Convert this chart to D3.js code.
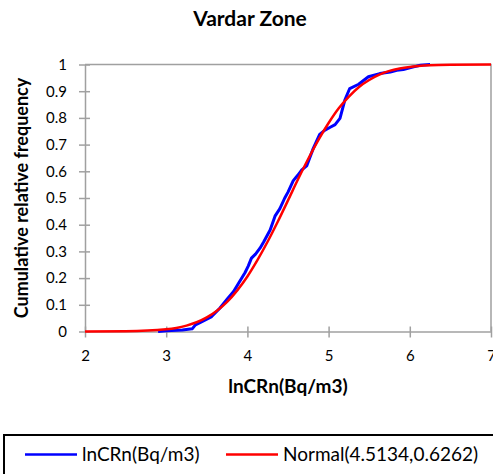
<!DOCTYPE html>
<html>
<head>
<meta charset="utf-8">
<script src="https://cdn.jsdelivr.net/npm/d3@7"></script>
<style>
  body { margin: 0; background: #fff; }
  svg { display: block; font-family: Lato, "Liberation Sans", sans-serif; }
</style>
</head>
<body>
<div class="chart"></div>
<script>
// tick labels
const xTicks = [2, 3, 4, 5, 6, 7];
const yTicks = [0, 0.1, 0.2, 0.3, 0.4, 0.5, 0.6, 0.7, 0.8, 0.9, 1];

const obsX = [2.90, 3.00, 3.20, 3.32, 3.36, 3.44, 3.56, 3.66, 3.76, 3.83, 3.91, 3.97, 4.01, 4.05,
  4.10, 4.155, 4.20, 4.28, 4.34, 4.40, 4.46, 4.50, 4.565, 4.62, 4.67, 4.73, 4.81, 4.89, 4.955,
  5.02, 5.08, 5.14, 5.20, 5.26, 5.37, 5.49, 5.63, 5.76, 5.84, 5.92, 6.00, 6.06, 6.13, 6.25];
const obsF = [0.000, 0.003, 0.006, 0.010, 0.025, 0.037, 0.056, 0.087, 0.125, 0.150, 0.190, 0.220,
  0.245, 0.275, 0.290, 0.312, 0.335, 0.380, 0.432, 0.460, 0.500, 0.522, 0.565, 0.585, 0.605, 0.620,
  0.685, 0.738, 0.754, 0.765, 0.775, 0.798, 0.867, 0.910, 0.926, 0.954, 0.966, 0.972, 0.978, 0.981,
  0.988, 0.992, 0.997, 1.000];

// fitted normal curve
const fitX = [2.0, 2.5, 3.0, 3.125, 3.25, 3.5, 3.625, 3.75, 3.875, 4.0, 4.125, 4.25, 4.375, 4.5,
  4.625, 4.75, 4.875, 5.0, 5.125, 5.25, 5.375, 5.5, 5.625, 5.75, 5.875, 6.0, 6.25, 6.5, 7.0];
const fitF = [0.000, 0.001, 0.008, 0.013, 0.022, 0.053, 0.078, 0.111, 0.154, 0.206, 0.268, 0.337,
  0.412, 0.491, 0.571, 0.647, 0.718, 0.781, 0.836, 0.880, 0.916, 0.942, 0.962, 0.976, 0.985, 0.991,
  0.997, 0.999, 1.000];

const seriesNames = ["lnCRn(Bq/m3)", "Normal(4.5134,0.6262)"];
const seriesColors = ["#0000ff", "#ff0000"];

const W = 493, H = 474;
const plot = { left: 85, right: 491, top: 64.5, bottom: 331.5 };
const axisColor = "#a0a0a0";

const svg = d3.select(".chart").append("svg").attr("width", W).attr("height", H);

const x = d3.scaleLinear().domain([2, 7]).range([plot.left, plot.right]);
const y = d3.scaleLinear().domain([0, 1]).range([plot.bottom, plot.top]);

// plot border (top and right)
svg.append("path")
  .attr("d", `M${plot.left},${plot.top}H${plot.right}V${plot.bottom}`)
  .attr("fill", "none")
  .attr("stroke", axisColor)
  .attr("stroke-width", 1.5);

// y axis
const yAxis = svg.append("g")
  .attr("transform", `translate(${plot.left},0)`)
  .call(d3.axisLeft(y).tickValues(yTicks).tickSizeInner(6).tickSizeOuter(0).tickPadding(12)
    .tickFormat(d => d === 0 || d === 1 ? d : d3.format(".1f")(d)));
yAxis.select(".domain").attr("stroke", axisColor).attr("stroke-width", 1.5);
yAxis.selectAll(".tick line").attr("stroke", axisColor).attr("stroke-width", 1.5).attr("x2", 5).attr("x1", -6);
yAxis.selectAll(".tick text").attr("font-size", 15).attr("font-family", "Lato, sans-serif").attr("fill", "#000");

// x axis
const xAxis = svg.append("g")
  .attr("transform", `translate(0,${plot.bottom})`)
  .call(d3.axisBottom(x).tickValues(xTicks).tickSizeInner(6).tickSizeOuter(0).tickPadding(13)
    .tickFormat(d3.format("d")));
xAxis.select(".domain").attr("stroke", axisColor).attr("stroke-width", 1.5);
xAxis.selectAll(".tick line").attr("stroke", axisColor).attr("stroke-width", 1.5).attr("y1", -5).attr("y2", 6);
xAxis.selectAll(".tick text").attr("font-size", 15).attr("font-family", "Lato, sans-serif").attr("fill", "#000");

// curves
const line = d3.line().x(d => x(d[0])).y(d => y(d[1]));
svg.append("path")
  .datum(obsX.map((v, i) => [v, obsF[i]]))
  .attr("fill", "none")
  .attr("stroke", seriesColors[0])
  .attr("stroke-width", 3)
  .attr("stroke-linejoin", "round")
  .attr("d", line);

svg.append("path")
  .datum(fitX.map((v, i) => [v, fitF[i]]))
  .attr("fill", "none")
  .attr("stroke", seriesColors[1])
  .attr("stroke-width", 2.5)
  .attr("d", line.curve(d3.curveMonotoneX));

// titles
svg.append("text")
  .attr("x", 250).attr("y", 26)
  .attr("text-anchor", "middle")
  .attr("font-size", 21).attr("font-weight", "bold")
  .text("Vardar Zone");

svg.append("text")
  .attr("x", (plot.left + plot.right) / 2).attr("y", 393)
  .attr("text-anchor", "middle")
  .attr("font-size", 19).attr("font-weight", "bold")
  .text("lnCRn(Bq/m3)");

svg.append("text")
  .attr("transform", `translate(28,${(plot.top + plot.bottom) / 2}) rotate(-90)`)
  .attr("text-anchor", "middle")
  .attr("font-size", 18).attr("font-weight", "bold")
  .text("Cumulative relative frequency");

// legend
const legend = svg.append("g");
legend.append("rect")
  .attr("x", 4).attr("y", 435)
  .attr("width", W).attr("height", 60)
  .attr("fill", "none")
  .attr("stroke", "#000")
  .attr("stroke-width", 2);

const legendX = [25, 226];
seriesNames.forEach((name, i) => {
  const g = legend.append("g").attr("transform", `translate(${legendX[i]},454.5)`);
  g.append("line").attr("x1", 0).attr("x2", 52)
    .attr("stroke", seriesColors[i]).attr("stroke-width", 2.5);
  g.append("text").attr("x", 57).attr("y", 6)
    .attr("font-size", 19)
    .text(name);
});
</script>
</body>
</html>
